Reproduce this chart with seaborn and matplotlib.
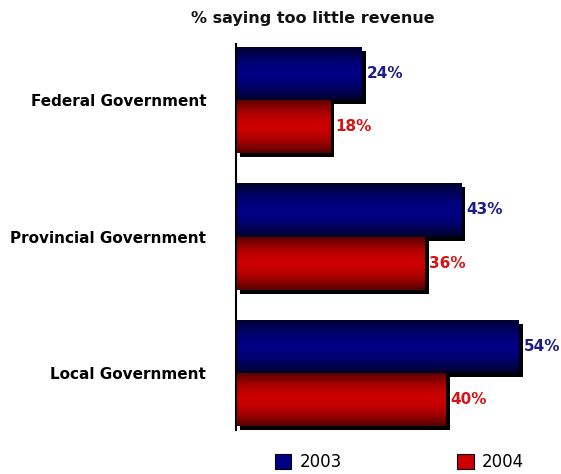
import matplotlib
matplotlib.use('Agg')
import matplotlib.pyplot as plt
import matplotlib.patheffects as pe
from matplotlib.colors import LinearSegmentedColormap
from matplotlib.patches import Patch
import numpy as np
import pandas as pd
import seaborn as sns

levels = ['Federal Government', 'Provincial Government', 'Local Government']
years = ['2003', '2004']
pct_2003 = [24, 43, 54]
pct_2004 = [18, 36, 40]

title = '% saying too little revenue'
base_colors = {'2003': '#000084', '2004': '#cc0000'}
dark_colors = {'2003': '#000028', '2004': '#520000'}
label_colors = {'2003': '#1c1c8c', '2004': '#d41414'}

df = pd.DataFrame({
    'level': levels * 2,
    'year': ['2003'] * 3 + ['2004'] * 3,
    'pct': pct_2003 + pct_2004,
})

sns.set_theme(style='white')
plt.rcParams['font.family'] = ['DejaVu Sans']

fig = plt.figure(figsize=(5.61, 4.74), dpi=100)
ax = fig.add_axes([0.4207, 0.0835, 0.579, 0.835])

sns.barplot(data=df, y='level', x='pct', hue='year', hue_order=years,
            orient='h', palette=base_colors, width=0.78, saturation=1,
            linewidth=0, legend=False, ax=ax)

# vertical gradient: dark at top/bottom edges, bright in the middle
grad = np.abs(np.linspace(-1, 1, 128)) ** 1.8
grad = grad.reshape(-1, 1)

for year, container in zip(years, ax.containers):
    cmap = LinearSegmentedColormap.from_list(
        'g' + year, [base_colors[year], dark_colors[year]])
    for bar, val in zip(container, df.loc[df['year'] == year, 'pct']):
        bar.set_edgecolor('none')
        bar.set_linewidth(0)
        bar.set_path_effects([
            pe.SimplePatchShadow(offset=(3, -3), shadow_rgbFace='black', alpha=1.0),
            pe.Normal(),
        ])
        x0, y0 = bar.get_x(), bar.get_y()
        w, h = bar.get_width(), bar.get_height()
        im = ax.imshow(grad, cmap=cmap, vmin=0, vmax=1, aspect='auto',
                       extent=[x0, x0 + w, y0 + h, y0], zorder=2)
        im.set_clip_path(bar)
        ax.annotate(f'{val}%', xy=(x0 + w, y0 + h / 2), xytext=(3.5, 0),
                    textcoords='offset points', ha='left', va='center',
                    color=label_colors[year], fontsize=11, fontweight='bold')

ax.set_xlim(0, 62)
ax.set_ylim(2.45, -0.45)
ax.set_xlabel('')
ax.set_ylabel('')
ax.set_xticks([])
ax.tick_params(axis='y', length=0, pad=21.5)
for lbl in ax.get_yticklabels():
    lbl.set_fontweight('bold')
    lbl.set_fontsize(11)
    lbl.set_color('black')

for s in ['top', 'right', 'bottom']:
    ax.spines[s].set_visible(False)
ax.spines['left'].set_color('black')
ax.spines['left'].set_linewidth(1.5)
ax.spines['left'].set_bounds(-0.41, 2.42)

fig.text(0.557, 0.962, title, ha='center', va='center',
         fontsize=11.5, fontweight='bold', color='#111111')

handles = [Patch(facecolor=base_colors[y], edgecolor='black', linewidth=0.8) for y in years]
leg = fig.legend(handles, years, loc='center', bbox_to_anchor=(0.712, 0.025),
                 ncol=2, frameon=False, fontsize=12, columnspacing=6.9,
                 handlelength=1.0, handleheight=1.0, handletextpad=0.5)
for t in leg.get_texts():
    t.set_color('black')

fig.savefig('out.png', dpi=100)
